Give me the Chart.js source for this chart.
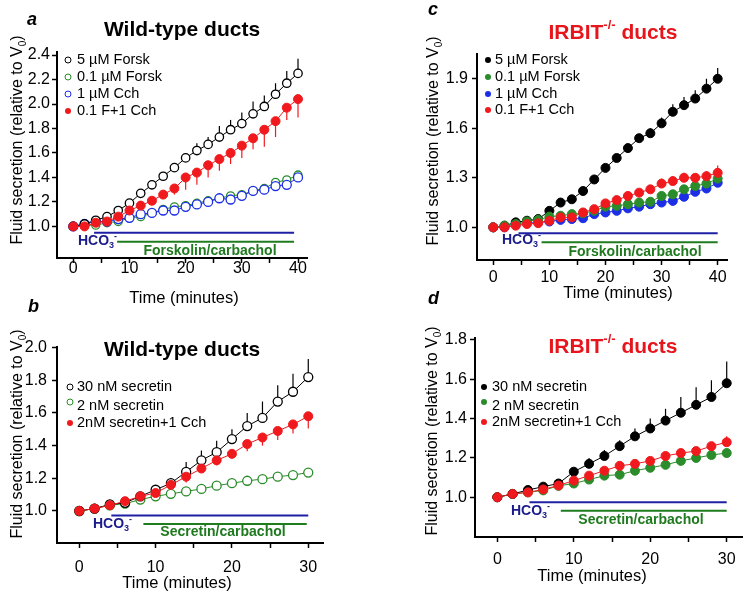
<!DOCTYPE html>
<html>
<head>
<meta charset="utf-8">
<script src="https://cdn.jsdelivr.net/npm/chart.js@4.4.1/dist/chart.umd.min.js"></script>
<style>
  body { margin: 0; background: #fff; width: 749px; height: 600px; position: relative; overflow: hidden; }
  canvas { position: absolute; left: 0; top: 0; }
</style>
</head>
<body>
<canvas id="panelA" width="749" height="600"></canvas>
<canvas id="panelB" width="749" height="600"></canvas>
<canvas id="panelC" width="749" height="600"></canvas>
<canvas id="panelD" width="749" height="600"></canvas>
<script>
// time points (minutes)
const time40 = [0, 2, 4, 6, 8, 10, 12, 14, 16, 18, 20, 22, 24, 26, 28, 30, 32, 34, 36, 38, 40];
const time30 = [0, 2, 4, 6, 8, 10, 12, 14, 16, 18, 20, 22, 24, 26, 28, 30];

// axis ticks
const xTicks40 = [0, 5, 10, 15, 20, 25, 30, 35, 40];
const xTicks30 = [0, 5, 10, 15, 20, 25, 30];
const yTicksA = [1.0, 1.2, 1.4, 1.6, 1.8, 2.0, 2.2, 2.4];
const yTicksB = [1.0, 1.2, 1.4, 1.6, 1.8, 2.0];
const yTicksC = [1.0, 1.3, 1.6, 1.9];
const yTicksD = [1.0, 1.2, 1.4, 1.6, 1.8];

// panel a : wild-type, forskolin / carbachol
const aForsk5 = [1.00, 1.02, 1.05, 1.08, 1.13, 1.19, 1.27, 1.34, 1.41, 1.48, 1.56, 1.62, 1.67, 1.73, 1.79, 1.84, 1.92, 1.98, 2.08, 2.17, 2.25];
const aForsk5Err = [0, 0, 0.01, 0.01, 0.01, 0.02, 0.02, 0.02, 0.03, 0.03, 0.04, 0.06, 0.06, 0.09, 0.08, 0.09, 0.10, 0.09, 0.09, 0.10, 0.12];
const aForsk01 = [1.00, 1.01, 1.01, 1.03, 1.04, 1.07, 1.08, 1.11, 1.14, 1.16, 1.17, 1.19, 1.21, 1.23, 1.25, 1.26, 1.29, 1.31, 1.36, 1.38, 1.42];
const aForsk01Err = [0, 0, 0, 0.01, 0.01, 0.01, 0.01, 0.02, 0.01, 0.01, 0.01, 0.01, 0.01, 0.01, 0.01, 0.01, 0.01, 0.01, 0.01, 0.01, 0.01];
const aCch = [1.00, 1.02, 1.04, 1.04, 1.06, 1.07, 1.10, 1.11, 1.13, 1.13, 1.16, 1.18, 1.20, 1.23, 1.22, 1.25, 1.29, 1.30, 1.33, 1.34, 1.40];
const aCchErr = [0, 0, 0, 0.01, 0.01, 0.01, 0.01, 0.01, 0.01, 0.01, 0.01, 0.01, 0.01, 0.01, 0.01, 0.01, 0.01, 0.01, 0.01, 0.01, 0.01];
const aMix = [1.00, 1.00, 1.03, 1.04, 1.08, 1.13, 1.17, 1.21, 1.26, 1.31, 1.40, 1.44, 1.50, 1.55, 1.60, 1.66, 1.72, 1.79, 1.86, 1.97, 2.04];
const aMixErr = [0, 0, 0.01, 0.01, 0.02, 0.02, 0.02, 0.02, 0.035, 0.05, 0.10, 0.10, 0.10, 0.095, 0.09, 0.10, 0.09, 0.14, 0.13, 0.10, 0.15];

// panel b : wild-type, secretin / carbachol
const bSec30 = [1.00, 1.015, 1.04, 1.05, 1.09, 1.13, 1.17, 1.24, 1.31, 1.36, 1.44, 1.52, 1.57, 1.67, 1.73, 1.82];
const bSec30Err = [0, 0, 0.01, 0.01, 0.01, 0.02, 0.03, 0.06, 0.06, 0.07, 0.06, 0.08, 0.10, 0.10, 0.11, 0.11];
const bSec2 = [1.00, 1.015, 1.035, 1.045, 1.07, 1.09, 1.105, 1.12, 1.135, 1.155, 1.17, 1.185, 1.195, 1.21, 1.22, 1.235];
const bSecCch = [1.00, 1.015, 1.035, 1.06, 1.09, 1.11, 1.16, 1.21, 1.26, 1.31, 1.35, 1.41, 1.45, 1.49, 1.53, 1.58];
const bSecCchErr = [0, 0, 0.01, 0.01, 0.01, 0.01, 0.02, 0.035, 0.02, 0.03, 0.03, 0.045, 0.05, 0.055, 0.055, 0.075];

// panel c : IRBIT-/-, forskolin / carbachol
const cForsk5 = [1.00, 1.01, 1.03, 1.04, 1.05, 1.10, 1.15, 1.17, 1.22, 1.29, 1.36, 1.42, 1.48, 1.54, 1.57, 1.63, 1.70, 1.74, 1.78, 1.84, 1.90];
const cForsk5Err = [0, 0, 0, 0.01, 0.01, 0.01, 0.01, 0.01, 0.01, 0.01, 0.015, 0.015, 0.02, 0.02, 0.03, 0.035, 0.045, 0.05, 0.05, 0.06, 0.065];
const cForsk01 = [1.00, 1.01, 1.02, 1.035, 1.045, 1.065, 1.07, 1.08, 1.085, 1.10, 1.125, 1.13, 1.14, 1.15, 1.155, 1.19, 1.20, 1.23, 1.25, 1.265, 1.295];
const cForsk01Err = [0, 0, 0, 0, 0.01, 0.01, 0.01, 0.01, 0.01, 0.01, 0.01, 0.01, 0.01, 0.01, 0.01, 0.01, 0.015, 0.015, 0.01, 0.015, 0.015];
const cCch = [1.00, 1.00, 1.015, 1.025, 1.03, 1.035, 1.045, 1.05, 1.055, 1.08, 1.09, 1.10, 1.115, 1.125, 1.14, 1.15, 1.16, 1.185, 1.215, 1.235, 1.27];
const cCchErr = [0, 0, 0, 0, 0.01, 0.01, 0.01, 0.015, 0.01, 0.01, 0.01, 0.015, 0.01, 0.01, 0.01, 0.01, 0.015, 0.01, 0.01, 0.01, 0.01];
const cMix = [1.00, 1.00, 1.01, 1.02, 1.025, 1.04, 1.06, 1.06, 1.09, 1.11, 1.145, 1.165, 1.19, 1.21, 1.23, 1.265, 1.28, 1.30, 1.30, 1.31, 1.33];
const cMixErr = [0, 0, 0, 0, 0.005, 0.01, 0.01, 0.01, 0.01, 0.02, 0.02, 0.02, 0.02, 0.02, 0.02, 0.03, 0.03, 0.03, 0.02, 0.03, 0.045];

// panel d : IRBIT-/-, secretin / carbachol
const dSec30 = [1.00, 1.017, 1.037, 1.054, 1.07, 1.13, 1.17, 1.21, 1.26, 1.31, 1.35, 1.39, 1.43, 1.47, 1.51, 1.58];
const dSec30Err = [0, 0, 0.005, 0.005, 0.01, 0.01, 0.03, 0.03, 0.03, 0.04, 0.05, 0.06, 0.08, 0.09, 0.085, 0.11];
const dSec2 = [1.00, 1.017, 1.025, 1.035, 1.058, 1.07, 1.09, 1.11, 1.115, 1.135, 1.15, 1.165, 1.185, 1.20, 1.215, 1.225];
const dSecCch = [1.00, 1.017, 1.025, 1.04, 1.06, 1.085, 1.11, 1.135, 1.16, 1.17, 1.185, 1.21, 1.225, 1.235, 1.26, 1.28];
const dSecCchErr = [0, 0, 0, 0, 0, 0, 0, 0.01, 0, 0, 0, 0.005, 0.005, 0.005, 0.01, 0.03];

// HCO3- and stimulus bars [start, end] in minutes, level in y units
const aHco3Bar = [3.7, 39.3], aHco3Level = 0.949;
const aStimBar = [7.8, 39.3], aStimLevel = 0.875;
const bHco3Bar = [4.2, 30], bHco3Level = 0.972;
const bStimBar = [8.4, 29.8], bStimLevel = 0.92;
const cHco3Bar = [4.5, 40], cHco3Level = 0.964;
const cStimBar = [8.6, 40], cStimLevel = 0.91;
const dHco3Bar = [4.2, 30], dHco3Level = 0.975;
const dStimBar = [8.3, 30], dStimLevel = 0.932;

const FONT = '"Liberation Sans", Arial, Helvetica, sans-serif';
const RED = '#f01a1e';
const GREEN = '#2a8c2a';
const BLUE = '#1c2ee6';
const BAR_BLUE = '#1f1fa6';
const BAR_GREEN = '#1f7d1f';
const TXT_BLUE = '#1b1b8c';
const TXT_GREEN = '#1f7a1f';
const TITLE_RED = '#e6161c';

Chart.defaults.font.family = FONT;
Chart.defaults.color = '#000';

// one series with markers, a connecting line and one-sided error bars
function series(label, times, vals, errs, dir, color, open, r, order) {
  return {
    label: label,
    data: times.map((t, i) => ({ x: t, y: vals[i] })),
    borderColor: color,
    backgroundColor: open ? '#fff' : color,
    pointBackgroundColor: open ? '#fff' : color,
    pointBorderColor: color,
    pointRadius: r,
    pointBorderWidth: open ? 1.3 : 1,
    borderWidth: 1,
    tension: 0,
    order: order,
    err: errs,
    errDir: dir,
  };
}

// horizontal bar for HCO3- / stimulus period
function hbar(range, level, color) {
  return {
    data: range.map((v) => ({ x: v, y: level })),
    borderColor: color,
    borderWidth: 2,
    pointRadius: 0,
    order: 20,
  };
}

const specs = {};

// extra drawing: error bars, titles, legend, axis titles, labels
const decor = {
  id: 'decor',
  beforeDatasetsDraw(chart) {
    const ctx = chart.ctx;
    const xs = chart.scales.x, ys = chart.scales.y;
    ctx.save();
    chart.data.datasets.forEach((ds) => {
      if (!ds.err) return;
      ctx.strokeStyle = ds.borderColor;
      ctx.lineWidth = 1.2;
      ds.data.forEach((p, i) => {
        const e = ds.err[i];
        if (!e) return;
        const px = xs.getPixelForValue(p.x);
        ctx.beginPath();
        ctx.moveTo(px, ys.getPixelForValue(p.y));
        ctx.lineTo(px, ys.getPixelForValue(p.y + ds.errDir * e));
        ctx.stroke();
      });
    });
    ctx.restore();
  },
  afterDraw(chart) {
    const s = specs[chart.canvas.id];
    const ctx = chart.ctx;
    ctx.save();
    ctx.fillStyle = '#000';

    // panel letter
    ctx.font = 'italic bold 18px ' + FONT;
    ctx.textBaseline = 'alphabetic';
    ctx.textAlign = 'left';
    ctx.fillText(s.letter, s.letterPos[0], s.letterPos[1]);

    // title (with optional superscript piece)
    drawPieces(ctx, s.title, s.titlePos[0], s.titlePos[1], 21, s.titleColor, true);

    // legend
    ctx.font = '14.5px ' + FONT;
    ctx.textBaseline = 'middle';
    s.legend.forEach((it, i) => {
      const y = s.legendRows[i];
      ctx.beginPath();
      ctx.arc(s.legendX[0], y + (it.dy || 0), 3, 0, Math.PI * 2);
      if (it.open) {
        ctx.fillStyle = '#fff';
        ctx.fill();
        ctx.strokeStyle = it.color;
        ctx.lineWidth = 1;
        ctx.stroke();
      } else {
        ctx.fillStyle = it.color;
        ctx.fill();
      }
      ctx.fillStyle = '#000';
      ctx.textAlign = 'left';
      ctx.fillText(it.text, s.legendX[1], y);
    });

    // x title
    ctx.font = '16.5px ' + FONT;
    ctx.textAlign = 'center';
    ctx.fillText('Time (minutes)', s.xTitlePos[0], s.xTitlePos[1]);

    // y title, rotated, with subscript 0
    ctx.save();
    ctx.translate(s.yTitlePos[0], s.yTitlePos[1]);
    ctx.rotate(-Math.PI / 2);
    drawPieces(ctx, [
      { t: 'Fluid secretion (relative to V' },
      { t: '0', sub: true },
      { t: ')' },
    ], 0, 0, 16, '#000', false);
    ctx.restore();

    // HCO3- label
    drawPieces(ctx, [
      { t: 'HCO' },
      { t: '3', sub: true },
      { t: '-', sup: true },
    ], s.hco3Pos[0], s.hco3Pos[1], 14, TXT_BLUE, true, 'left');

    // stimulus label
    ctx.font = 'bold 14px ' + FONT;
    ctx.fillStyle = TXT_GREEN;
    ctx.textAlign = 'center';
    ctx.textBaseline = 'middle';
    ctx.fillText(s.stimText, s.stimPos[0], s.stimPos[1]);
    ctx.restore();
  },
};

// draws text pieces on one line, centred (or left aligned) at x,y
function drawPieces(ctx, pieces, x, y, size, color, bold, align) {
  const w = bold ? 'bold ' : '';
  const small = Math.round(size * 0.62);
  const widths = pieces.map((p) => {
    ctx.font = w + ((p.sub || p.sup) ? small : size) + 'px ' + FONT;
    return ctx.measureText(p.t).width;
  });
  const total = widths.reduce((a, b) => a + b, 0);
  let cx = align === 'left' ? x : x - total / 2;
  ctx.fillStyle = color;
  ctx.textAlign = 'left';
  ctx.textBaseline = 'middle';
  pieces.forEach((p, i) => {
    ctx.font = w + ((p.sub || p.sup) ? small : size) + 'px ' + FONT;
    let dy = 0;
    if (p.sub) dy = size * 0.3;
    if (p.sup) dy = -size * 0.35;
    ctx.fillText(p.t, cx, y + dy);
    cx += widths[i];
  });
}

function makeChart(id, s) {
  specs[id] = s;
  const yW = 45, xH = 30;
  new Chart(document.getElementById(id), {
    type: 'line',
    data: { datasets: s.datasets },
    options: {
      responsive: false,
      animation: false,
      events: [],
      layout: {
        padding: {
          left: s.area.l - yW,
          right: 749 - s.area.r,
          top: s.area.t,
          bottom: 600 - s.area.b - xH,
        },
      },
      plugins: { legend: { display: false }, tooltip: { enabled: false } },
      scales: {
        x: {
          type: 'linear',
          min: s.xRange[0],
          max: s.xRange[1],
          afterFit: (sc) => { sc.height = xH; },
          afterBuildTicks: (sc) => { sc.ticks = s.xTicks.map((v) => ({ value: v })); },
          ticks: {
            autoSkip: false,
            maxRotation: 0,
            padding: s.xPad,
            color: '#000',
            font: { size: 16, lineHeight: 1 },
            callback: (v) => (v % 10 === 0 ? String(v) : ''),
          },
          grid: { drawOnChartArea: false, tickLength: 5, tickColor: '#000', tickWidth: 1.5 },
          border: { color: '#000', width: 2 },
        },
        y: {
          min: s.yRange[0],
          max: s.yRange[1],
          afterFit: (sc) => { sc.width = yW; },
          afterBuildTicks: (sc) => { sc.ticks = s.yTicks.map((v) => ({ value: v })); },
          ticks: {
            autoSkip: false,
            padding: s.yPad,
            color: '#000',
            font: { size: 16 },
            callback: (v) => v.toFixed(1),
          },
          grid: { drawOnChartArea: false, tickLength: 5, tickColor: '#000', tickWidth: 1.5 },
          border: { color: '#000', width: 2 },
        },
      },
    },
    plugins: [decor],
  });
}

makeChart('panelA', {
  area: { l: 57, r: 307, t: 52, b: 258 },
  xRange: [-2.9, 41.6], yRange: [0.742, 2.425],
  xTicks: xTicks40, yTicks: yTicksA, xPad: -2, yPad: 2,
  datasets: [
    series('0.1 F+1 Cch', time40, aMix, aMixErr, -1, RED, false, 4.5, 1),
    series('5 µM Forsk', time40, aForsk5, aForsk5Err, 1, '#000', true, 4.2, 2),
    series('1 µM Cch', time40, aCch, aCchErr, -1, BLUE, true, 4.5, 3),
    series('0.1 µM Forsk', time40, aForsk01, aForsk01Err, 1, GREEN, true, 4, 4),
    hbar(aHco3Bar, aHco3Level, BAR_BLUE),
    hbar(aStimBar, aStimLevel, BAR_GREEN),
  ],
  letter: 'a', letterPos: [27, 25],
  title: [{ t: 'Wild-type ducts' }], titlePos: [182, 30], titleColor: '#000',
  legendX: [68, 77], legendRows: [60, 77, 94, 111],
  legend: [
    { text: '5 µM Forsk', color: '#000', open: true },
    { text: '0.1 µM Forsk', color: GREEN, open: true },
    { text: '1 µM Cch', color: BLUE, open: true },
    { text: '0.1 F+1 Cch', color: RED, open: false },
  ],
  xTitlePos: [184, 298], yTitlePos: [18, 140],
  hco3Pos: [78, 241], stimText: 'Forskolin/carbachol', stimPos: [210, 251],
});

makeChart('panelB', {
  area: { l: 57, r: 323, t: 347, b: 543 },
  xRange: [-2.92, 31.93], yRange: [0.804, 2.004],
  xTicks: xTicks30, yTicks: yTicksB, xPad: 12, yPad: 5,
  datasets: [
    series('2nM secretin+1 Cch', time30, bSecCch, bSecCchErr, -1, RED, false, 4.5, 1),
    series('30 nM secretin', time30, bSec30, bSec30Err, 1, '#000', true, 4.5, 2),
    series('2 nM secretin', time30, bSec2, null, 1, GREEN, true, 4.5, 3),
    hbar(bHco3Bar, bHco3Level, BAR_BLUE),
    hbar(bStimBar, bStimLevel, BAR_GREEN),
  ],
  letter: 'b', letterPos: [28, 312],
  title: [{ t: 'Wild-type ducts' }], titlePos: [182, 350], titleColor: '#000',
  legendX: [70, 77], legendRows: [387, 406, 423],
  legend: [
    { text: '30 nM secretin', color: '#000', open: true },
    { text: '2 nM secretin', color: GREEN, open: true, dy: -4 },
    { text: '2nM secretin+1 Cch', color: RED, open: false },
  ],
  xTitlePos: [177, 583], yTitlePos: [18, 434],
  hco3Pos: [93, 524], stimText: 'Secretin/carbachol', stimPos: [223, 532.5],
});

makeChart('panelC', {
  area: { l: 477, r: 727, t: 54, b: 260 },
  xRange: [-2.9, 41.66], yRange: [0.802, 2.05],
  xTicks: xTicks40, yTicks: yTicksC, xPad: 5, yPad: 4,
  datasets: [
    series('0.1 F+1 Cch', time40, cMix, cMixErr, 1, RED, false, 4.5, 1),
    series('0.1 µM Forsk', time40, cForsk01, cForsk01Err, 1, GREEN, false, 4.5, 2),
    series('1 µM Cch', time40, cCch, cCchErr, -1, BLUE, false, 4.5, 3),
    series('5 µM Forsk', time40, cForsk5, cForsk5Err, 1, '#000', false, 4.5, 4),
    hbar(cHco3Bar, cHco3Level, BAR_BLUE),
    hbar(cStimBar, cStimLevel, BAR_GREEN),
  ],
  letter: 'c', letterPos: [428, 15],
  title: [{ t: 'IRBIT' }, { t: '-/-', sup: true }, { t: ' ducts' }], titlePos: [613, 33], titleColor: TITLE_RED,
  legendX: [488, 495], legendRows: [60, 77, 94, 110],
  legend: [
    { text: '5 µM Forsk', color: '#000', open: false },
    { text: '0.1 µM Forsk', color: GREEN, open: false },
    { text: '1 µM Cch', color: BLUE, open: false },
    { text: '0.1 F+1 Cch', color: RED, open: false },
  ],
  xTitlePos: [618, 293], yTitlePos: [434, 141],
  hco3Pos: [502, 240], stimText: 'Forskolin/carbachol', stimPos: [635, 252],
});

makeChart('panelD', {
  area: { l: 475, r: 742, t: 338, b: 537 },
  xRange: [-2.92, 32.0], yRange: [0.798, 1.81],
  xTicks: xTicks30, yTicks: yTicksD, xPad: 10, yPad: 3,
  datasets: [
    series('2nM secretin+1 Cch', time30, dSecCch, dSecCchErr, 1, RED, false, 4.5, 1),
    series('30 nM secretin', time30, dSec30, dSec30Err, 1, '#000', false, 4.5, 2),
    series('2 nM secretin', time30, dSec2, null, 1, GREEN, false, 4.5, 3),
    hbar(dHco3Bar, dHco3Level, BAR_BLUE),
    hbar(dStimBar, dStimLevel, BAR_GREEN),
  ],
  letter: 'd', letterPos: [428, 304],
  title: [{ t: 'IRBIT' }, { t: '-/-', sup: true }, { t: ' ducts' }], titlePos: [613, 347], titleColor: TITLE_RED,
  legendX: [484, 492], legendRows: [387, 406, 422],
  legend: [
    { text: '30 nM secretin', color: '#000', open: false },
    { text: '2 nM secretin', color: GREEN, open: false, dy: -4 },
    { text: '2nM secretin+1 Cch', color: RED, open: false },
  ],
  xTitlePos: [592, 576], yTitlePos: [433, 431],
  hco3Pos: [511, 511], stimText: 'Secretin/carbachol', stimPos: [641, 520.5],
});
</script>
</body>
</html>
